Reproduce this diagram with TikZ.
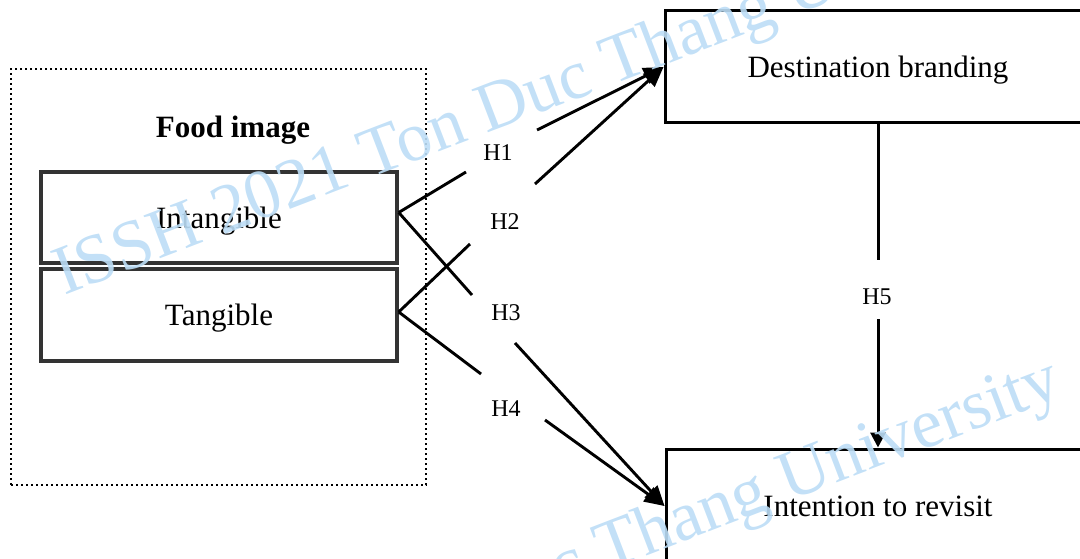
\documentclass[tikz,border=0pt]{standalone}
\usepackage{fontspec}
\setmainfont{Liberation Serif}
\usetikzlibrary{arrows.meta}
\definecolor{wmblue}{RGB}{188,221,246}
\begin{document}
\begin{tikzpicture}[x=1pt,y=-1pt,
  bigtext/.style={font=\fontsize{31}{37}\selectfont, text depth=0pt},
  hlabel/.style={font=\fontsize{24}{28}\selectfont, inner sep=0pt},
  mainbox/.style={draw, line width=3pt, inner sep=0pt, bigtext},
  subbox/.style={draw=black!80, line width=3.4pt, inner sep=0pt, bigtext,
    minimum width=356pt, minimum height=91pt},
  groupbox/.style={draw, line width=2.6pt, dash pattern=on 2.4pt off 2.6pt,
    inner sep=0pt, minimum width=415pt, minimum height=416pt},
  link/.style={line width=2.9pt},
  arrow/.style={link, -{Triangle[length=20pt,width=17pt]}},
  wm/.style={text=wmblue, font=\fontsize{70}{80}\selectfont, inner sep=0pt,
    rotate=21, anchor=base west, opacity=0.9}
]
\useasboundingbox (0,0) rectangle (1080,559);

% food image group
\node[groupbox] (group) at (218.5,277) {};
\node[bigtext, font=\fontsize{31}{37}\selectfont\bfseries] (grouptitle) at (233,127) {Food image};
\node[subbox] (int) at (219,217.5) {Intangible};
\node[subbox, minimum height=92pt] (tan) at (219,315) {Tangible};

% outcome boxes
\node[mainbox, minimum width=426pt, minimum height=112pt] (dest) at (878,67) {Destination branding};
\node[mainbox, minimum width=424pt, minimum height=114pt] (rev) at (878,506) {Intention to revisit};

% hypothesis labels
\node[hlabel] (l1) at (498,153) {H1};
\node[hlabel] (l2) at (505,222) {H2};
\node[hlabel] (l3) at (506,313) {H3};
\node[hlabel] (l4) at (506,409) {H4};
\node[hlabel] (l5) at (877,297) {H5};

% break points around the labels
\coordinate (h1a) at (466,172);
\coordinate (h1b) at (537,130);
\coordinate (h2a) at (470,244);
\coordinate (h2b) at (535,184);
\coordinate (h3a) at (472,295);
\coordinate (h3b) at (515,343);
\coordinate (h4a) at (481,374);
\coordinate (h4b) at (545,420);
\coordinate (h5a) at (878,260);
\coordinate (h5b) at (878,319);

% connectors
\draw[link] ([yshift=5pt]int.east) -- (h1a);
\draw[arrow] (h1b) -- (dest.west);
\draw[link] ([yshift=3pt]tan.east) -- (h2a);
\draw[arrow] (h2b) -- (dest.west);
\draw[link] ([yshift=5pt]int.east) -- (h3a);
\draw[arrow] (h3b) -- (rev.west);
\draw[link] ([yshift=3pt]tan.east) -- (h4a);
\draw[arrow] (h4b) -- (rev.west);
\draw[link, line width=3pt] (dest.south) -- (h5a);
\draw[link, line width=3pt, -{Triangle[length=15pt,width=15pt]}] (h5b) -- (rev.north);

% watermark
\node[wm] (wm1) at (64,296) {ISSH 2021 Ton Duc Thang University};
\node[wm] (wm2) at (58,782) {ISSH 2021 Ton Duc Thang University};
\node[wm] (wm3) at (-1000,788) {ISSH 2021 Ton Duc Thang University};
\end{tikzpicture}
\end{document}
